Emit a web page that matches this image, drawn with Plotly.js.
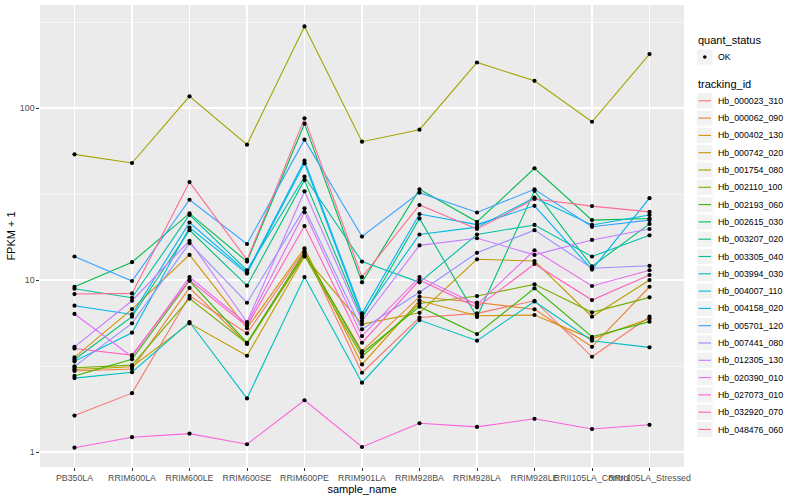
<!DOCTYPE html>
<html><head><meta charset="utf-8">
<script src="https://cdn.plot.ly/plotly-3.0.1.min.js"></script>
<style>html,body{margin:0;padding:0;background:#fff}#chart{width:800px;height:500px}</style>
</head><body><div id="chart"></div>
<script>
// ---- data ----
const sampleNames = ["PB350LA","RRIM600LA","RRIM600LE","RRIM600SE","RRIM600PE","RRIM901LA","RRIM928BA","RRIM928LA","RRIM928LE","RRII105LA_Control","RRII105LA_Stressed"];
const trackingIds = ["Hb_000023_310","Hb_000062_090","Hb_000402_130","Hb_000742_020","Hb_001754_080","Hb_002110_100","Hb_002193_060","Hb_002615_030","Hb_003207_020","Hb_003305_040","Hb_003994_030","Hb_004007_110","Hb_004158_020","Hb_005701_120","Hb_007441_080","Hb_012305_130","Hb_020390_010","Hb_027073_010","Hb_032920_070","Hb_048476_060"];
const seriesColors = ["#F8766D","#EA8331","#D89000","#C09B00","#A3A500","#7CAE00","#39B600","#00BB4E","#00BF7D","#00C1A3","#00BFC4","#00BAE0","#00B0F6","#35A2FF","#9590FF","#C77CFF","#E76BF3","#FA62DB","#FF62BC","#FF6C91"];
const hb_000023_310 = [1.63, 2.20, 8.1, 4.9, 14.8, 2.89, 6.05, 6.4, 7.58, 3.58, 6.12];
const hb_000062_090 = [2.96, 3.04, 9.0, 4.25, 14.2, 3.86, 8.0, 7.4, 6.76, 4.09, 9.14];
const hb_000402_130 = [3.55, 6.78, 14.0, 5.25, 15.3, 3.23, 7.6, 6.2, 6.26, 4.55, 5.96];
const hb_000742_020 = [3.02, 3.13, 5.6, 3.63, 13.7, 5.54, 6.45, 13.2, 12.9, 6.12, 10.0];
const hb_001754_080 = [53.8, 47.9, 117, 61.2, 298, 63.7, 74.8, 184, 144, 83.2, 206];
const hb_002110_100 = [3.09, 3.20, 7.8, 4.28, 13.9, 3.58, 7.3, 8.07, 9.44, 6.49, 7.93];
const hb_002193_060 = [2.77, 3.46, 9.9, 4.32, 14.5, 3.75, 7.0, 4.85, 8.95, 4.68, 5.73];
const hb_002615_030 = [9.14, 12.7, 24.4, 12.8, 81.1, 9.7, 33.7, 21.8, 44.6, 22.3, 22.8];
const hb_003207_020 = [3.45, 6.12, 19.5, 9.27, 38.1, 6.0, 22.8, 6.1, 33.0, 12.0, 21.2];
const hb_003305_040 = [8.9, 7.89, 23.9, 11.4, 39.9, 12.8, 9.7, 18.4, 20.9, 13.7, 18.2];
const hb_003994_030 = [2.69, 2.91, 5.7, 2.05, 10.4, 2.53, 5.85, 4.44, 7.5, 4.44, 4.06];
const hb_004007_110 = [3.37, 4.94, 20.2, 10.9, 47.7, 6.2, 18.4, 20.3, 30.1, 20.9, 23.9];
const hb_004158_020 = [7.09, 6.31, 21.6, 11.1, 49.4, 6.40, 24.2, 21.0, 27.0, 11.5, 29.9];
const hb_005701_120 = [13.7, 9.87, 29.3, 16.2, 65.5, 17.9, 32.2, 24.7, 33.7, 20.4, 22.3];
const hb_007441_080 = [3.15, 5.60, 16.4, 7.38, 26.1, 5.17, 8.49, 14.4, 19.5, 11.7, 12.1];
const hb_012305_130 = [4.09, 7.58, 16.9, 5.7, 32.8, 5.78, 15.9, 17.5, 14.0, 17.1, 19.8];
const hb_020390_010 = [6.35, 3.58, 10.4, 5.55, 24.8, 4.72, 10.4, 7.2, 14.9, 9.23, 11.4];
const hb_027073_010 = [1.06, 1.22, 1.28, 1.11, 2.0, 1.07, 1.47, 1.40, 1.56, 1.36, 1.44];
const hb_032920_070 = [4.0, 3.66, 10.0, 5.4, 20.6, 4.32, 10.0, 6.94, 12.4, 7.65, 10.7];
const hb_048476_060 = [8.29, 8.36, 37.1, 13.1, 87.1, 10.4, 27.3, 19.8, 29.6, 26.9, 24.9];
const seriesValues = [hb_000023_310, hb_000062_090, hb_000402_130, hb_000742_020, hb_001754_080, hb_002110_100, hb_002193_060, hb_002615_030, hb_003207_020, hb_003305_040, hb_003994_030, hb_004007_110, hb_004158_020, hb_005701_120, hb_007441_080, hb_012305_130, hb_020390_010, hb_027073_010, hb_032920_070, hb_048476_060];
const yTickVals = [1, 10, 100];
const yTickText = ["1", "10", "100"];
const yMinorVals = [3.1623, 31.623, 316.23];
const quantStatus = ["OK"];

// ---- traces ----
const traces = [];
seriesValues.forEach((vals, i) => {
  traces.push({type: "scatter", mode: "lines", x: sampleNames, y: vals,
    line: {color: seriesColors[i], width: 1.1}, showlegend: false, hoverinfo: "x+y", name: trackingIds[i]});
});
seriesValues.forEach((vals, i) => {
  traces.push({type: "scatter", mode: "markers", x: sampleNames, y: vals,
    marker: {color: "#000000", size: 4.2}, showlegend: false, hoverinfo: "skip", name: trackingIds[i]});
});

// ---- manual ggplot-style legend (layout only) ----
const L = 40, R = 684, T = 5, B = 467;
const px = x => (x - L) / (R - L);
const py = y => (B - y) / (B - T);
const shapes = [], annotations = [];
const FONT = "Liberation Sans, Arial, Helvetica, sans-serif";
function keyBox(cy) {
  shapes.push({type: "rect", xref: "paper", yref: "paper", x0: px(697), x1: px(712.5), y0: py(cy - 7.6), y1: py(cy + 7.6),
    fillcolor: "#F2F2F2", line: {width: 0}, layer: "above"});
}
annotations.push({xref: "paper", yref: "paper", x: px(696), y: py(40.5), text: "quant_status", showarrow: false,
  xanchor: "left", yanchor: "middle", font: {family: FONT, size: 11, color: "#000"}});
keyBox(57);
shapes.push({type: "circle", xref: "paper", yref: "paper", x0: px(703), x1: px(706.6), y0: py(55.2), y1: py(58.8),
  fillcolor: "#000", line: {width: 0}, layer: "above"});
annotations.push({xref: "paper", yref: "paper", x: px(716), y: py(57), text: quantStatus[0], showarrow: false,
  xanchor: "left", yanchor: "middle", font: {family: FONT, size: 8.8, color: "#000"}});
annotations.push({xref: "paper", yref: "paper", x: px(696), y: py(84), text: "tracking_id", showarrow: false,
  xanchor: "left", yanchor: "middle", font: {family: FONT, size: 11, color: "#000"}});
trackingIds.forEach((id, i) => {
  const cy = 100.8 + i * 17.3;
  keyBox(cy);
  shapes.push({type: "line", xref: "paper", yref: "paper", x0: px(698.5), x1: px(711), y0: py(cy), y1: py(cy),
    line: {color: seriesColors[i], width: 1.1}, layer: "above"});
  annotations.push({xref: "paper", yref: "paper", x: px(716), y: py(cy), text: id, showarrow: false,
    xanchor: "left", yanchor: "middle", font: {family: FONT, size: 8.8, color: "#000"}});
});

const layout = {
  width: 800, height: 500,
  margin: {l: L, r: 800 - R, t: T, b: 500 - B, pad: 0},
  paper_bgcolor: "#FFFFFF", plot_bgcolor: "#EBEBEB",
  font: {family: FONT, size: 11, color: "#000"},
  showlegend: false,
  xaxis: {type: "category", categoryorder: "array", categoryarray: sampleNames, range: [-0.6, 10.6],
    showgrid: true, gridcolor: "#FFFFFF", gridwidth: 1.1, zeroline: false, showline: false,
    ticks: "outside", ticklen: 2.7, tickwidth: 1, tickcolor: "#333333", tickangle: 0,
    tickfont: {family: FONT, size: 8.8, color: "#4D4D4D"},
    title: {text: "sample_name", font: {family: FONT, size: 11, color: "#000"}, standoff: 3}},
  yaxis: {type: "log", range: [-0.087, 2.599], tickmode: "array", tickvals: yTickVals, ticktext: yTickText,
    showgrid: true, gridcolor: "#FFFFFF", gridwidth: 1.1, zeroline: false, showline: false,
    ticks: "outside", ticklen: 2.7, tickwidth: 1, tickcolor: "#333333",
    tickfont: {family: FONT, size: 8.8, color: "#4D4D4D"},
    minor: {tickmode: "array", tickvals: yMinorVals, showgrid: true, gridcolor: "#FFFFFF", gridwidth: 0.55, ticks: ""},
    title: {text: "FPKM + 1", font: {family: FONT, size: 11, color: "#000"}, standoff: 2}},
  shapes: shapes, annotations: annotations
};
Plotly.newPlot("chart", traces, layout, {displayModeBar: false, staticPlot: true});
</script></body></html>
